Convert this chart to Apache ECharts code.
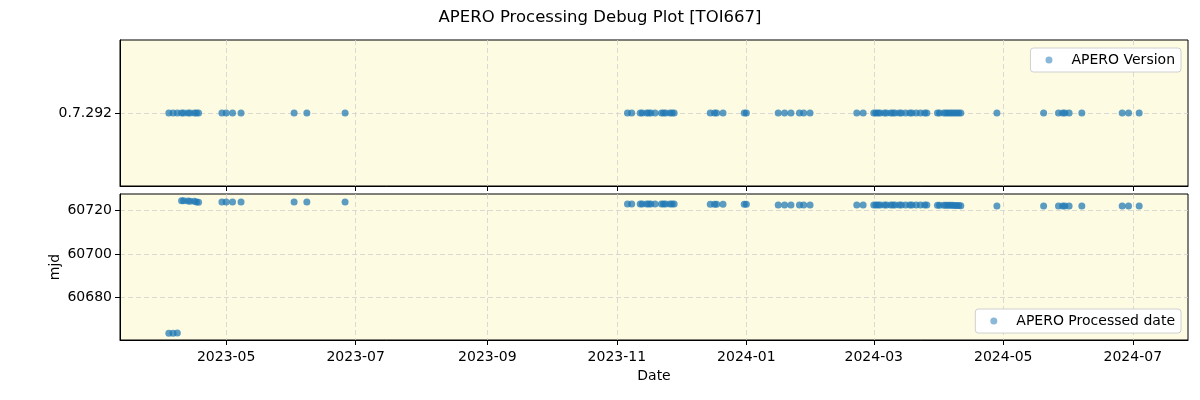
<!DOCTYPE html>
<html>
<head>
<meta charset="utf-8">
<script src="https://cdn.jsdelivr.net/npm/echarts@6/dist/echarts.min.js"></script>
<style>
html, body { margin: 0; background: #fff; }
#chart { width: 1200px; height: 400px; }
</style>
</head>
<body>
<div id="chart"></div>
<script>
// dates of each APERO run (shared by both panels)
const runDates = [
    '2023-04-04', '2023-04-06', '2023-04-08', '2023-04-10', '2023-04-11', '2023-04-13', '2023-04-14',
    '2023-04-16', '2023-04-17', '2023-04-18', '2023-04-29', '2023-05-01', '2023-05-04', '2023-05-08',
    '2023-06-02', '2023-06-08', '2023-06-26',
    '2023-11-06', '2023-11-08', '2023-11-12', '2023-11-13', '2023-11-15', '2023-11-16', '2023-11-17',
    '2023-11-19', '2023-11-22', '2023-11-23', '2023-11-24', '2023-11-26', '2023-11-27', '2023-11-28',
    '2023-12-15', '2023-12-17', '2023-12-18', '2023-12-21', '2023-12-31', '2024-01-01',
    '2024-01-16', '2024-01-19', '2024-01-22', '2024-01-26', '2024-01-28', '2024-01-31',
    '2024-02-22', '2024-02-25',
    '2024-03-01', '2024-03-02', '2024-03-03', '2024-03-04', '2024-03-06', '2024-03-07', '2024-03-09',
    '2024-03-10', '2024-03-11', '2024-03-13', '2024-03-14', '2024-03-16', '2024-03-18', '2024-03-19',
    '2024-03-21', '2024-03-23', '2024-03-25', '2024-03-26', '2024-03-31',
    '2024-04-01', '2024-04-03', '2024-04-04', '2024-04-05', '2024-04-06', '2024-04-07', '2024-04-08',
    '2024-04-09', '2024-04-10', '2024-04-11',
    '2024-04-28', '2024-05-20', '2024-05-27', '2024-05-29', '2024-05-30', '2024-06-01', '2024-06-07',
    '2024-06-26', '2024-06-29', '2024-07-04'
];

// processed date (mjd) for each run
const processedMjd = [
    60663.4, 60663.4, 60663.5, 60724.6, 60724.6, 60724.5, 60724.4,
    60724.3, 60724.0, 60723.9, 60724.0, 60724.0, 60724.0, 60724.0,
    60724.0, 60724.0, 60724.0,
    60723.1, 60723.1, 60723.1, 60723.1, 60723.1, 60723.1, 60723.1,
    60723.1, 60723.1, 60723.1, 60723.1, 60723.1, 60723.1, 60723.1,
    60723.0, 60723.0, 60723.0, 60723.0, 60723.0, 60723.0,
    60722.6, 60722.6, 60722.6, 60722.6, 60722.6, 60722.6,
    60722.6, 60722.6,
    60722.6, 60722.6, 60722.6, 60722.6, 60722.6, 60722.6, 60722.6,
    60722.6, 60722.6, 60722.6, 60722.6, 60722.6, 60722.6, 60722.6,
    60722.6, 60722.6, 60722.6, 60722.6, 60722.5,
    60722.5, 60722.5, 60722.5, 60722.5, 60722.5, 60722.5, 60722.4,
    60722.4, 60722.4, 60722.3,
    60722.2, 60722.2, 60722.2, 60722.2, 60722.2, 60722.2, 60722.2,
    60722.2, 60722.2, 60722.2
];

const versionLabel = '0.7.292';
const dateTicks = ['2023-05-01', '2023-07-01', '2023-09-01', '2023-11-01', '2024-01-01', '2024-03-01', '2024-05-01', '2024-07-01'];
const mjdTicks = [60680, 60700, 60720];
const dateRange = ['2023-03-12', '2024-07-27'];
const mjdRange = [60660.3, 60727.7];

const toTime = s => {
    const [y, m, d] = s.split('-').map(Number);
    return Date.UTC(y, m - 1, d);
};
const fmtMonth = v => {
    const d = new Date(v);
    return d.getUTCFullYear() + '-' + String(d.getUTCMonth() + 1).padStart(2, '0');
};

const FONT = 'DejaVu Sans';
const FS = 14;
const dotColor = 'rgba(31, 119, 180, 0.9)';
const gridLine = { show: true, lineStyle: { type: [5, 3], color: '#d0d0d0', width: 0.8 } };
const blackLine = { show: true, onZero: false, lineStyle: { color: '#000', width: 1 } };
const tickTimes = dateTicks.map(toTime);

const xAxisBase = {
    type: 'value',
    min: toTime(dateRange[0]),
    max: toTime(dateRange[1]),
    axisLine: blackLine,
    axisTick: { show: true, length: 5, lineStyle: { color: '#000' }, customValues: tickTimes },
    splitLine: gridLine
};

const legendBase = {
    orient: 'vertical', icon: 'circle', itemWidth: 7, itemHeight: 7, itemGap: 4,
    padding: [5, 6, 5, 15],
    backgroundColor: '#fff', borderColor: '#d0d0d0', borderWidth: 1, borderRadius: 3,
    textStyle: { fontFamily: FONT, fontSize: FS, color: '#000', padding: [0, 0, 0, 14] },
    itemStyle: { color: 'rgba(31, 119, 180, 0.65)' }
};

const chart = echarts.init(document.getElementById('chart'));
chart.setOption({
    animation: false,
    backgroundColor: '#fff',
    textStyle: { fontFamily: FONT },
    title: {
        text: 'APERO Processing Debug Plot [TOI667]',
        left: 'center', top: 4,
        textStyle: { fontFamily: FONT, fontSize: 16.5, fontWeight: 'normal', color: '#000' }
    },
    legend: [
        Object.assign({}, legendBase, { data: ['APERO Version'], right: 19, top: 48 }),
        Object.assign({}, legendBase, { data: ['APERO Processed date'], right: 19, top: 309 })
    ],
    grid: [
        { left: 120, right: 12, top: 40, height: 146, show: true, backgroundColor: '#fdfbe2', borderColor: '#000', borderWidth: 1 },
        { left: 120, right: 12, top: 194, height: 146, show: true, backgroundColor: '#fdfbe2', borderColor: '#000', borderWidth: 1 }
    ],
    xAxis: [
        Object.assign({}, xAxisBase, { gridIndex: 0, axisLabel: { show: false, customValues: tickTimes } }),
        Object.assign({}, xAxisBase, {
            gridIndex: 1,
            name: 'Date', nameLocation: 'middle', nameGap: 29,
            nameTextStyle: { fontFamily: FONT, fontSize: FS, color: '#000' },
            axisLabel: { fontFamily: FONT, fontSize: FS, color: '#000', margin: 10, customValues: tickTimes, formatter: fmtMonth }
        })
    ],
    yAxis: [
        {
            gridIndex: 0, type: 'value', min: -1, max: 1,
            axisLine: blackLine,
            axisTick: { show: true, length: 5, lineStyle: { color: '#000' }, customValues: [0] },
            axisLabel: { fontFamily: FONT, fontSize: FS, color: '#000', margin: 8, customValues: [0], formatter: () => versionLabel },
            splitLine: gridLine
        },
        {
            gridIndex: 1, type: 'value', min: mjdRange[0], max: mjdRange[1],
            name: 'mjd', nameLocation: 'middle', nameGap: 58, nameRotate: 90, nameMoveOverlap: false,
            nameTextStyle: { fontFamily: FONT, fontSize: FS, color: '#000' },
            axisLine: blackLine,
            axisTick: { show: true, length: 5, lineStyle: { color: '#000' }, customValues: mjdTicks },
            axisLabel: { fontFamily: FONT, fontSize: FS, color: '#000', margin: 8, customValues: mjdTicks, formatter: v => String(v) },
            splitLine: gridLine
        }
    ],
    series: [
        {
            name: 'APERO Version', type: 'scatter', xAxisIndex: 0, yAxisIndex: 0,
            symbolSize: 7, itemStyle: { color: dotColor },
            data: runDates.map(d => [toTime(d), 0])
        },
        {
            name: 'APERO Processed date', type: 'scatter', xAxisIndex: 1, yAxisIndex: 1,
            symbolSize: 7, itemStyle: { color: dotColor },
            data: runDates.map((d, i) => [toTime(d), processedMjd[i]])
        }
    ]
});
</script>
</body>
</html>
